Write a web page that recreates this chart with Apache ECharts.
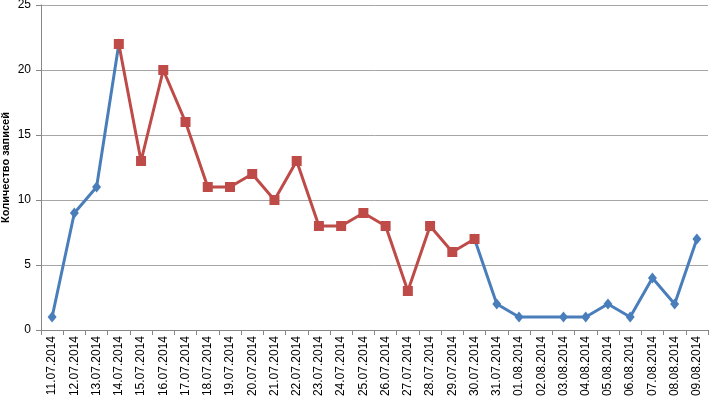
<!DOCTYPE html>
<html>
<head>
<meta charset="utf-8">
<script src="https://cdn.jsdelivr.net/npm/echarts@6/dist/echarts.min.js"></script>
<style>
  html, body { margin: 0; padding: 0; background: #fff; }
  #chart { width: 709px; height: 399px; }
</style>
</head>
<body>
<div id="chart"></div>
<script>
// даты
var dates = ['11.07.2014', '12.07.2014', '13.07.2014', '14.07.2014', '15.07.2014', '16.07.2014',
  '17.07.2014', '18.07.2014', '19.07.2014', '20.07.2014', '21.07.2014', '22.07.2014',
  '23.07.2014', '24.07.2014', '25.07.2014', '26.07.2014', '27.07.2014', '28.07.2014',
  '29.07.2014', '30.07.2014', '31.07.2014', '01.08.2014', '02.08.2014', '03.08.2014',
  '04.08.2014', '05.08.2014', '06.08.2014', '07.08.2014', '08.08.2014', '09.08.2014'];
// синяя линия (ромбы), начало
var blueStart = [1, 9, 11, 22, null, null, null, null, null, null, null, null, null, null, null,
  null, null, null, null, null, null, null, null, null, null, null, null, null, null, null];
// синяя линия (ромбы), конец; 02.08 без точки
var blueEnd = [null, null, null, null, null, null, null, null, null, null, null, null, null, null, null,
  null, null, null, null, 7, 2, 1, null, 1, 1, 2, 1, 4, 2, 7];
// красная линия (квадраты)
var redValues = [null, null, null, 22, 13, 20, 16, 11, 11, 12, 10, 13, 8, 8, 9, 8, 3, 8, 6, 7,
  null, null, null, null, null, null, null, null, null, null];

var blueLine = {
  type: 'line',
  symbol: 'diamond',
  symbolSize: [9, 11],
  lineStyle: { color: '#4a7ebb', width: 3 },
  itemStyle: { color: '#4a7ebb' }
};

var chart = echarts.init(document.getElementById('chart'));
chart.setOption({
  animation: false,
  grid: { left: 41, right: 1, top: 5, bottom: 69, outerBoundsMode: 'none', containLabel: false },
  xAxis: {
    type: 'category',
    data: dates,
    boundaryGap: true,
    axisLine: { lineStyle: { color: '#868686', width: 1 } },
    axisTick: { show: true, length: 5, lineStyle: { color: '#868686' } },
    axisLabel: {
      rotate: 90,
      interval: 0,
      margin: 6,
      color: '#000',
      fontFamily: 'Liberation Sans',
      fontSize: 12
    }
  },
  yAxis: {
    type: 'value',
    min: 0,
    max: 25,
    interval: 5,
    name: 'Количество записей',
    nameLocation: 'middle',
    nameGap: 30,
    nameMoveOverlap: false,
    nameTextStyle: { color: '#000', fontFamily: 'Liberation Sans', fontSize: 11, fontWeight: 'bold' },
    axisLine: { show: true, lineStyle: { color: '#868686', width: 1 } },
    axisTick: { show: true, length: 5, lineStyle: { color: '#868686' } },
    axisLabel: { color: '#000', fontFamily: 'Liberation Sans', fontSize: 12, margin: 10 },
    splitLine: { lineStyle: { color: '#a6a6a6', width: 1 } }
  },
  series: [
    Object.assign({ name: 'blue1', data: blueStart }, blueLine),
    Object.assign({ name: 'blue2', data: blueEnd, connectNulls: true }, blueLine),
    {
      name: 'red',
      type: 'line',
      data: redValues,
      symbol: 'rect',
      symbolSize: 10,
      lineStyle: { color: '#be4b48', width: 3 },
      itemStyle: { color: '#be4b48' }
    }
  ]
});
</script>
</body>
</html>
